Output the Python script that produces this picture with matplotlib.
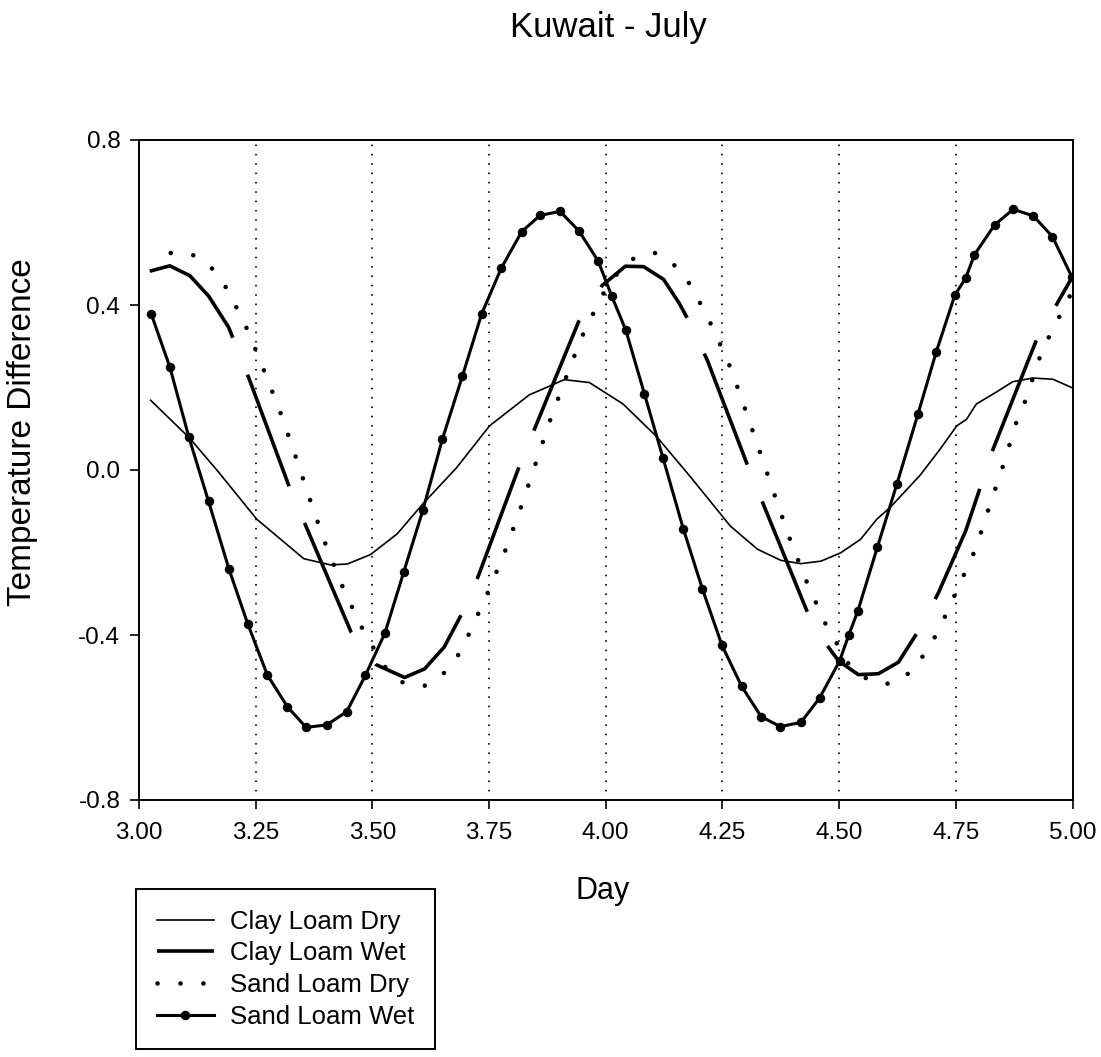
import matplotlib
matplotlib.use("Agg")
import matplotlib.pyplot as plt
from matplotlib.ticker import FormatStrFormatter

plt.rcParams['font.family'] = ['Liberation Sans', 'DejaVu Sans']

# ---- data ----
clay_dry_day = [3.025, 3.065, 3.107, 3.169, 3.252, 3.353, 3.410, 3.446, 3.496, 3.553,
                3.609, 3.680, 3.751, 3.836, 3.911, 3.965, 4.037, 4.109, 4.181, 4.267,
                4.325, 4.375, 4.418, 4.461, 4.503, 4.546, 4.581, 4.610, 4.674, 4.716,
                4.752, 4.773, 4.794, 4.837, 4.872, 4.915, 4.958, 4.998]
clay_dry_val = [0.169, 0.125, 0.079, -0.003, -0.119, -0.215, -0.230, -0.228, -0.205, -0.155,
                -0.081, 0.005, 0.107, 0.182, 0.219, 0.212, 0.160, 0.081, -0.016, -0.136,
                -0.192, -0.219, -0.227, -0.221, -0.201, -0.168, -0.119, -0.090, -0.012, 0.050,
                0.107, 0.123, 0.160, 0.189, 0.214, 0.223, 0.220, 0.200]

clay_wet_day = [3.023, 3.066, 3.109, 3.149, 3.192, 3.236, 3.323, 3.454, 3.508, 3.569,
                3.612, 3.654, 3.697, 3.728, 3.816, 3.942, 3.992, 4.042, 4.081, 4.124,
                4.157, 4.184, 4.218, 4.308, 4.434, 4.478, 4.499, 4.541, 4.584, 4.627,
                4.676, 4.713, 4.771, 4.830, 4.923, 4.999]
clay_wet_val = [0.482, 0.495, 0.471, 0.422, 0.346, 0.221, -0.044, -0.392, -0.472, -0.503,
                -0.482, -0.429, -0.337, -0.254, 0.013, 0.360, 0.447, 0.494, 0.493, 0.462,
                0.405, 0.349, 0.265, -0.001, -0.350, -0.431, -0.463, -0.496, -0.494, -0.466,
                -0.379, -0.297, -0.148, 0.051, 0.316, 0.467]

sand_dry_day = [3.068, 3.112, 3.156, 3.190, 3.234, 3.270, 3.305, 3.336, 3.366, 3.397,
                3.433, 3.474, 3.524, 3.568, 3.612, 3.656, 3.689, 3.710, 3.751, 3.787,
                3.819, 3.850, 3.880, 3.913, 3.948, 3.992, 4.027, 4.064, 4.106, 4.150,
                4.184, 4.230, 4.269, 4.301, 4.332, 4.363, 4.394, 4.429, 4.469, 4.519,
                4.563, 4.610, 4.655, 4.686, 4.712, 4.753, 4.793, 4.822, 4.852, 4.880,
                4.899, 4.929, 4.948, 4.971, 4.994]
sand_dry_val = [0.526, 0.524, 0.489, 0.437, 0.336, 0.235, 0.133, 0.031, -0.071, -0.172,
                -0.275, -0.375, -0.474, -0.518, -0.523, -0.490, -0.441, -0.390, -0.288, -0.189,
                -0.088, 0.016, 0.118, 0.219, 0.321, 0.423, 0.480, 0.517, 0.526, 0.494,
                0.445, 0.343, 0.243, 0.140, 0.038, -0.065, -0.166, -0.267, -0.369, -0.468,
                -0.510, -0.519, -0.489, -0.441, -0.392, -0.290, -0.190, -0.088, 0.013, 0.117,
                0.168, 0.270, 0.319, 0.370, 0.421]

sand_wet_day = [3.026, 3.066, 3.107, 3.149, 3.193, 3.233, 3.275, 3.318, 3.358, 3.402,
                3.445, 3.485, 3.527, 3.567, 3.608, 3.650, 3.693, 3.734, 3.776, 3.820,
                3.859, 3.902, 3.943, 3.984, 4.013, 4.043, 4.083, 4.123, 4.166, 4.207,
                4.249, 4.291, 4.333, 4.374, 4.418, 4.458, 4.501, 4.521, 4.540, 4.582,
                4.624, 4.669, 4.708, 4.748, 4.771, 4.790, 4.833, 4.873, 4.916, 4.957,
                4.999]
sand_wet_val = [0.379, 0.250, 0.079, -0.076, -0.241, -0.373, -0.497, -0.574, -0.624, -0.618,
                -0.586, -0.498, -0.395, -0.248, -0.098, 0.075, 0.228, 0.378, 0.489, 0.578,
                0.617, 0.627, 0.579, 0.506, 0.421, 0.339, 0.184, 0.028, -0.142, -0.288,
                -0.425, -0.524, -0.598, -0.622, -0.612, -0.553, -0.463, -0.399, -0.342, -0.187,
                -0.033, 0.136, 0.286, 0.424, 0.465, 0.522, 0.594, 0.632, 0.616, 0.566,
                0.467]

x_ticks = [3.00, 3.25, 3.50, 3.75, 4.00, 4.25, 4.50, 4.75, 5.00]
y_ticks = [-0.8, -0.4, 0.0, 0.4, 0.8]
grid_days = [3.25, 3.50, 3.75, 4.00, 4.25, 4.50, 4.75]
series_labels = ['Clay Loam Dry', 'Clay Loam Wet', 'Sand Loam Dry', 'Sand Loam Wet']

# ---- figure ----
W, H = 1101, 1057
fig = plt.figure(figsize=(W / 100, H / 100), dpi=100)
L, R, T, B = 139, 1072.5, 140, 800
ax = fig.add_axes([L / W, 1 - B / H, (R - L) / W, (B - T) / H])

for gx in grid_days:
    ax.axvline(gx, color='black', lw=1.4, linestyle=(0, (0.01, 4.8)),
               dash_capstyle='round', zorder=1)

l1, = ax.plot(clay_dry_day, clay_dry_val, color='black', lw=1.2, zorder=3)
l2, = ax.plot(clay_wet_day, clay_wet_val, color='black', lw=2.6,
              linestyle=(0, (33, 11)), dash_capstyle='butt', zorder=3)
l3, = ax.plot(sand_dry_day, sand_dry_val, color='black', lw=3.3,
              linestyle=(0, (0.01, 5.0)), dash_capstyle='round', zorder=3)
l4, = ax.plot(sand_wet_day, sand_wet_val, color='black', lw=2.2, marker='o',
              markersize=5.8, zorder=4)

ax.set_xlim(3.0, 5.0)
ax.set_ylim(-0.8, 0.8)
ax.set_xticks(x_ticks)
ax.set_yticks(y_ticks)
ax.xaxis.set_major_formatter(FormatStrFormatter('%.2f'))
ax.yaxis.set_major_formatter(FormatStrFormatter('%.1f'))
ax.tick_params(axis='both', direction='out', length=6.5, width=1.2,
               labelsize=17.5, top=False, right=False)
ax.tick_params(axis='x', pad=9)
ax.tick_params(axis='y', pad=7)
for sp in ax.spines.values():
    sp.set_linewidth(1.4)

ax.set_xlabel('Day', fontsize=22)
ax.xaxis.set_label_coords((603 - L) / (R - L), (B - 876) / (B - T))
ax.set_ylabel('Temperature Difference', fontsize=24)
ax.yaxis.set_label_coords((38 - L) / (R - L), (B - 432) / (B - T))

fig.text(608 / W, 1 - 11 / H, 'Kuwait - July', ha='center', va='top', fontsize=25)

leg = fig.legend([l1, l2, l3, l4], series_labels, loc='upper left',
                 bbox_to_anchor=(136 / W, 1 - 889 / H), bbox_transform=fig.transFigure,
                 borderaxespad=0, fontsize=18.5, frameon=True, fancybox=False,
                 shadow=False, framealpha=1, edgecolor='black',
                 handlelength=2.25, handletextpad=0.6,
                 labelspacing=0.3, borderpad=0.8, numpoints=1)
leg.get_frame().set_linewidth(1.4)

fig.savefig('out.png', dpi=100, facecolor='white')
